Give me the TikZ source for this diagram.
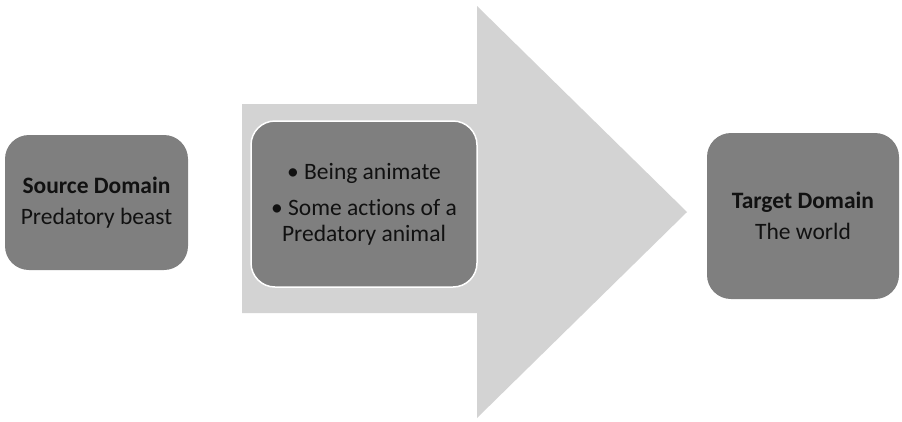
\documentclass[tikz,border=0pt]{standalone}
\usepackage{fontspec}
\setmainfont{Carlito}[RawFeature={-liga}]
\definecolor{boxgray}{HTML}{7F7F7F}
\definecolor{arrowgray}{HTML}{D3D3D3}
\definecolor{txtgray}{HTML}{111111}
\begin{document}
\begin{tikzpicture}[x=1pt,y=-1pt,
  domainbox/.style={rectangle, rounded corners=24pt, fill=boxgray, text=txtgray,
    align=center, inner sep=0pt, font=\fontsize{23.5}{30}\selectfont},
  middlebox/.style={domainbox, draw=white, line width=1.5pt, font=\fontsize{23.5}{26}\selectfont},
  bigarrow/.style={fill=arrowgray}
]
\useasboundingbox (0,0) rectangle (902,421);
\fill[bigarrow] (242,104) -- (477,104) -- (477,6) -- (687,212) -- (477,418) -- (477,313) -- (242,313) -- cycle;
\node[domainbox, minimum width=183pt, minimum height=135pt] (source) at (96.5,202.5)
  {\textbf{Source Domain}\\[1pt]Predatory beast};
\node[middlebox, minimum width=226pt, minimum height=166pt] (middle) at (364,204)
  {• Being animate\\[10pt]• Some actions of a\\Predatory animal};
\node[domainbox, minimum width=192pt, minimum height=166pt] (target) at (803,216)
  {\textbf{Target Domain}\\[1pt]The world};
\end{tikzpicture}
\end{document}
